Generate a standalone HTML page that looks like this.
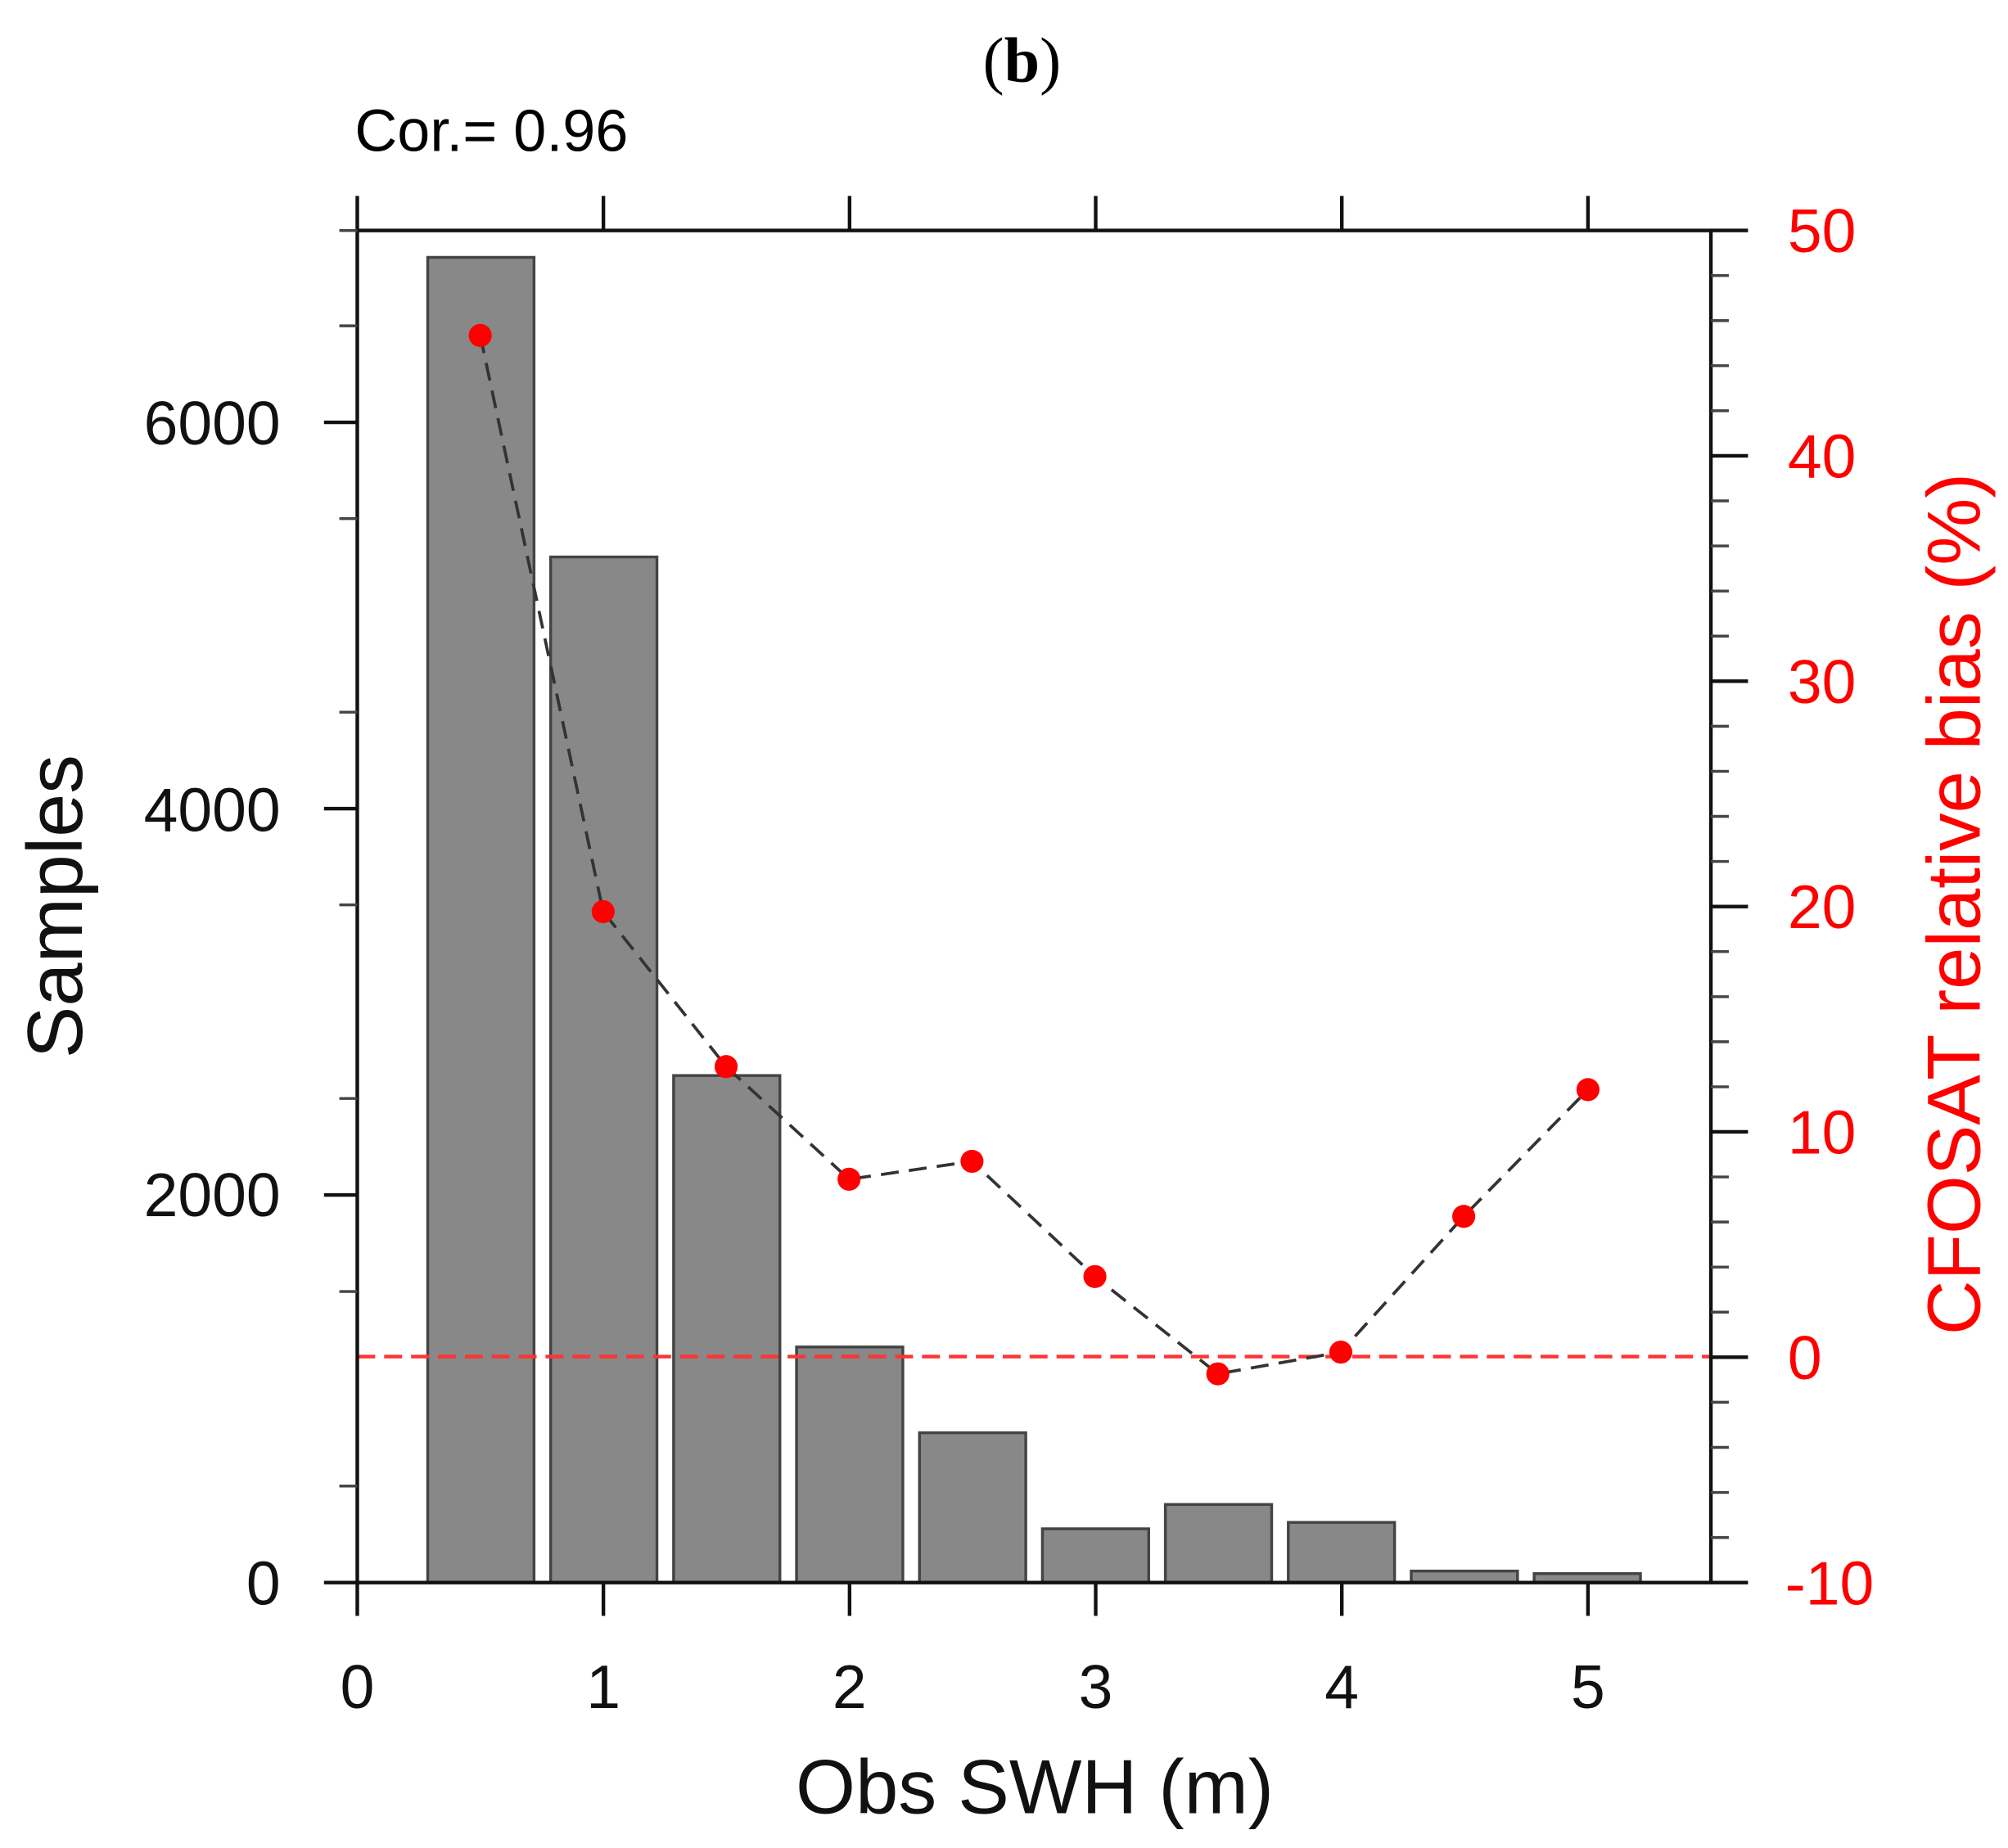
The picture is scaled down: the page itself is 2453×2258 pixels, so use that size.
<!DOCTYPE html>
<html><head><meta charset="utf-8"><style>html,body{margin:0;padding:0;background:#fff}svg{display:block}</style></head>
<body>
<svg width="2453" height="2258" viewBox="0 0 1568 1443.3" preserveAspectRatio="none" xmlns="http://www.w3.org/2000/svg" font-family="Liberation Sans, sans-serif">
<text x="798" y="64" text-anchor="middle" font-family="Liberation Serif, serif" font-size="50"><tspan>(</tspan><tspan font-weight="bold">b</tspan><tspan>)</tspan></text>
<text x="277" y="118" font-size="46">Cor.= 0.96</text>
<g fill="#888" stroke="#444" stroke-width="2.2">
<rect x="334" y="201" width="83" height="1035"/>
<rect x="430" y="435" width="83" height="801"/>
<rect x="526" y="840" width="83" height="396"/>
<rect x="622" y="1052" width="83" height="184"/>
<rect x="718" y="1119" width="83" height="117"/>
<rect x="814" y="1194" width="83" height="42"/>
<rect x="910" y="1175" width="83" height="61"/>
<rect x="1006" y="1189" width="83" height="47"/>
<rect x="1102" y="1227" width="83" height="9"/>
<rect x="1198" y="1229" width="83" height="7"/>
</g>
<line x1="279" y1="1059.5" x2="1336" y2="1059.5" stroke="#f33" stroke-width="2.8" stroke-dasharray="14,7"/>
<polyline fill="none" stroke="#333" stroke-width="2.4" stroke-dasharray="14,8" points="375,262 471,712 567,833 663,921 759,907 855,997 951,1073 1047,1056 1143,950 1240,851"/>
<g fill="#f00">
<circle cx="375" cy="262" r="9"/><circle cx="471" cy="712" r="9"/><circle cx="567" cy="833" r="9"/><circle cx="663" cy="921" r="9"/><circle cx="759" cy="907" r="9"/><circle cx="855" cy="997" r="9"/><circle cx="951" cy="1073" r="9"/><circle cx="1047" cy="1056" r="9"/><circle cx="1143" cy="950" r="9"/><circle cx="1240" cy="851" r="9"/>
</g>
<rect x="279" y="180" width="1057" height="1056" fill="none" stroke="#111" stroke-width="2.8"/>
<g stroke="#111" stroke-width="2.8">
<line x1="253" y1="1236" x2="279" y2="1236"/><line x1="253" y1="933.3" x2="279" y2="933.3"/><line x1="253" y1="631.6" x2="279" y2="631.6"/><line x1="253" y1="329.9" x2="279" y2="329.9"/>
<line x1="279" y1="1236" x2="279" y2="1262"/><line x1="471.2" y1="1236" x2="471.2" y2="1262"/><line x1="663.4" y1="1236" x2="663.4" y2="1262"/><line x1="855.6" y1="1236" x2="855.6" y2="1262"/><line x1="1047.8" y1="1236" x2="1047.8" y2="1262"/><line x1="1240" y1="1236" x2="1240" y2="1262"/>
<line x1="279" y1="180" x2="279" y2="153"/><line x1="471.2" y1="180" x2="471.2" y2="153"/><line x1="663.4" y1="180" x2="663.4" y2="153"/><line x1="855.6" y1="180" x2="855.6" y2="153"/><line x1="1047.8" y1="180" x2="1047.8" y2="153"/><line x1="1240" y1="180" x2="1240" y2="153"/>
<line x1="1336" y1="1236" x2="1365" y2="1236"/><line x1="1336" y1="1060" x2="1365" y2="1060"/><line x1="1336" y1="884" x2="1365" y2="884"/><line x1="1336" y1="708" x2="1365" y2="708"/><line x1="1336" y1="532" x2="1365" y2="532"/><line x1="1336" y1="356" x2="1365" y2="356"/><line x1="1336" y1="180" x2="1365" y2="180"/>
</g>
<g stroke="#444" stroke-width="2.2">
<line x1="265" y1="1160.6" x2="279" y2="1160.6"/><line x1="265" y1="1008.7" x2="279" y2="1008.7"/><line x1="265" y1="857.9" x2="279" y2="857.9"/><line x1="265" y1="706.7" x2="279" y2="706.7"/><line x1="265" y1="556.2" x2="279" y2="556.2"/><line x1="265" y1="405" x2="279" y2="405"/><line x1="265" y1="254.5" x2="279" y2="254.5"/><line x1="265" y1="180" x2="279" y2="180"/>
<path d="M1336 1200.8h14M1336 1165.6h14M1336 1130.4h14M1336 1095.2h14M1336 1024.8h14M1336 989.6h14M1336 954.4h14M1336 919.2h14M1336 848.8h14M1336 813.6h14M1336 778.4h14M1336 743.2h14M1336 672.8h14M1336 637.6h14M1336 602.4h14M1336 567.2h14M1336 496.8h14M1336 461.6h14M1336 426.4h14M1336 391.2h14M1336 320.8h14M1336 285.6h14M1336 250.4h14M1336 215.2h14"/>
</g>
<g font-size="48" text-anchor="end" fill="#111">
<text x="219" y="1253">0</text><text x="219" y="950">2000</text><text x="219" y="649">4000</text><text x="219" y="347">6000</text>
</g>
<g font-size="48" text-anchor="middle" fill="#111">
<text x="279" y="1334">0</text><text x="471.2" y="1334">1</text><text x="663.4" y="1334">2</text><text x="855.6" y="1334">3</text><text x="1047.8" y="1334">4</text><text x="1240" y="1334">5</text>
</g>
<g font-size="48" fill="#f00">
<text x="1394" y="1253">-10</text><text x="1396" y="1077">0</text><text x="1396" y="901">10</text><text x="1396" y="725">20</text><text x="1396" y="549">30</text><text x="1396" y="373">40</text><text x="1396" y="197">50</text>
</g>
<text x="808" y="1416" text-anchor="middle" font-size="60" fill="#111">Obs SWH (m)</text>
<text transform="translate(64,708) rotate(-90)" text-anchor="middle" font-size="61" fill="#111">Samples</text>
<text transform="translate(1546,706) rotate(-90)" text-anchor="middle" font-size="59" fill="#f00">CFOSAT relative bias (%)</text>
</svg>
</body></html>
